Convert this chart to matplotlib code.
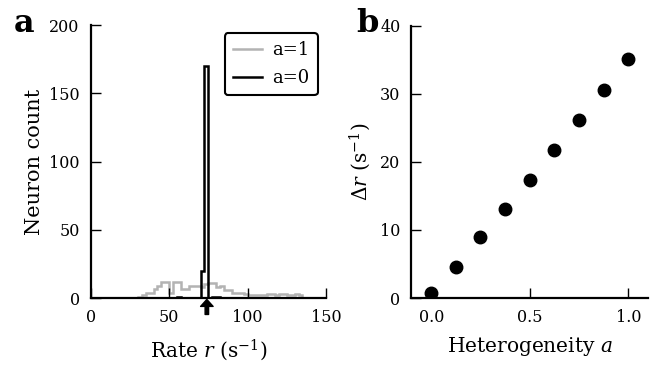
import numpy as np
import matplotlib
matplotlib.use('Agg')
from matplotlib import pyplot as plt

plt.rcParams['font.family'] = 'DejaVu Serif'
plt.rcParams['mathtext.fontset'] = 'dejavuserif'

# firing-rate histograms, bins of 2.5 s^-1 from 0 to 150
bin_edges = np.arange(0, 152.5, 2.5)
grey_start = 30.0
counts_a1 = [1, 2, 4, 4, 7, 9, 12, 12, 4, 12, 12, 7, 7, 9, 9, 9, 8, 10, 11, 11, 8,
             9, 6, 6, 4, 4, 4, 3, 2, 2, 2, 2, 2, 3, 3, 2, 3, 3, 2, 2, 3, 2]
black_bins = {55.0: 1, 70.0: 20, 72.5: 170, 77.5: 1, 80.0: 1}
mean_rate = 74.0

# rate spread vs heterogeneity
heterogeneity = [0.0, 0.125, 0.25, 0.375, 0.5, 0.625, 0.75, 0.875, 1.0]
delta_r = [0.8, 4.6, 8.95, 13.1, 17.3, 21.8, 26.1, 30.6, 35.1]


def hist_from(start, vals):
    h = np.zeros(len(bin_edges) - 1)
    i0 = int(round(start / 2.5))
    h[i0:i0 + len(vals)] = vals
    return h


h1 = hist_from(grey_start, counts_a1)
h0 = np.zeros(len(bin_edges) - 1)
for k, v in black_bins.items():
    h0[int(round(k / 2.5))] = v


def style(ax):
    for s in ['top', 'right']:
        ax.spines[s].set_visible(False)
    for s in ['left', 'bottom']:
        ax.spines[s].set_linewidth(1.6)
    ax.tick_params(direction='in', length=7, width=1, labelsize=11.5,
                   top=False, right=False, pad=8)


fig = plt.figure(figsize=(6.68, 3.68), dpi=100)
ax1 = fig.add_axes([0.136, 0.190, 0.352, 0.742])
ax2 = fig.add_axes([0.616, 0.190, 0.354, 0.740])

ax1.stairs(h1, bin_edges, color='#b3b3b3', lw=1.8, label='a=1')
ax1.stairs(h0, bin_edges, color='black', lw=1.8, label='a=0')
ax1.set_xlim(0, 150)
ax1.set_ylim(0, 200)
ax1.set_xticks([0, 50, 100, 150])
ax1.set_yticks([0, 50, 100, 150, 200])
ax1.set_xlabel(r'Rate $r$ (s$^{-1}$)', fontsize=14.5, labelpad=8)
ax1.set_ylabel('Neuron count', fontsize=15, labelpad=4)
style(ax1)
ax1.annotate('', xy=(mean_rate, -1), xytext=(mean_rate, -12),
             arrowprops=dict(facecolor='black', edgecolor='black', width=2.5,
                             headwidth=9, headlength=5, shrink=0),
             annotation_clip=False)
leg = ax1.legend(loc='upper right', fontsize=13, handlelength=1.6,
                 handletextpad=0.6, borderaxespad=0.45, borderpad=0.45,
                 labelspacing=0.55, fancybox=True, framealpha=1)
leg.get_frame().set_edgecolor('black')
leg.get_frame().set_linewidth(1.5)

ax2.plot(heterogeneity, delta_r, 'o', color='black', ms=9)
ax2.set_xlim(-0.1, 1.1)
ax2.set_ylim(0, 40)
ax2.set_xticks([0.0, 0.5, 1.0])
ax2.set_yticks([0, 10, 20, 30, 40])
ax2.set_xlabel(r'Heterogeneity $a$', fontsize=14.5, labelpad=6)
ax2.set_ylabel(r'$\Delta r$ (s$^{-1}$)', fontsize=14.5, labelpad=5)
style(ax2)

fig.text(0.020, 0.912, 'a', fontsize=23, fontweight='bold')
fig.text(0.533, 0.912, 'b', fontsize=23, fontweight='bold')

fig.savefig('out.png', dpi=100)
